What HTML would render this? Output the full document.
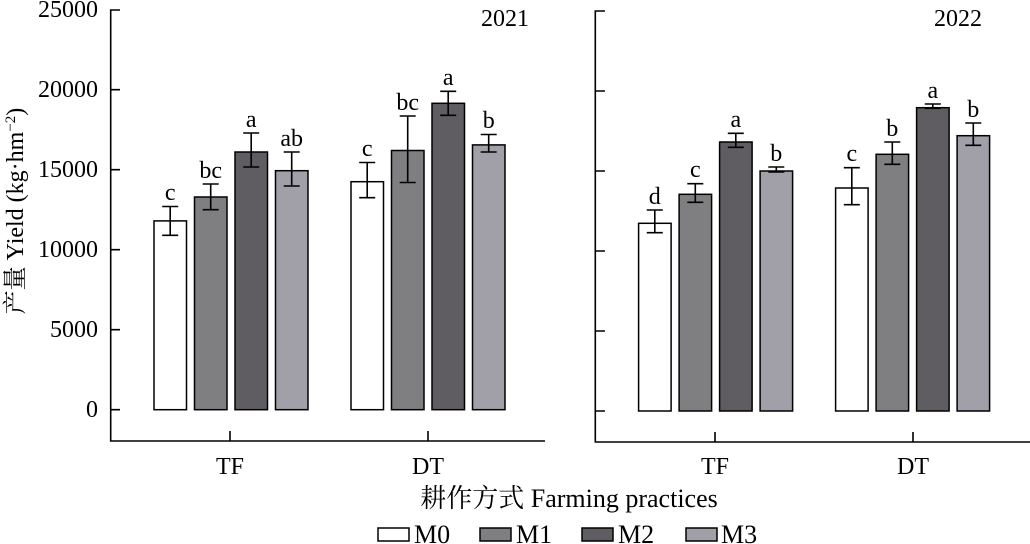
<!DOCTYPE html>
<html><head><meta charset="utf-8"><style>
html,body{margin:0;padding:0;background:#fff;}
svg{display:block;font-family:"Liberation Serif","Noto Serif CJK SC",serif;}
</style></head><body>
<svg width="1030" height="544" viewBox="0 0 1030 544" xmlns="http://www.w3.org/2000/svg">
<g stroke="#000" stroke-width="1.6" fill="none">
<path d="M120,10 H110.7 V441 H545"/>
<path d="M110.7,89.7 H120 M110.7,169.7 H120 M110.7,249.7 H120 M110.7,329.7 H120 M110.7,409.7 H120"/>
<path d="M230,441 V431 M428,441 V431"/>
<path d="M605,11 H595.3 V442 H1030"/>
<path d="M595.3,91 H605 M595.3,171 H605 M595.3,251 H605 M595.3,331 H605 M595.3,411 H605"/>
<path d="M715,442 V432 M913,442 V432"/>
</g>
<g font-size="24" text-anchor="end" fill="#000">
<text x="98" y="17">25000</text>
<text x="98" y="97">20000</text>
<text x="98" y="177">15000</text>
<text x="98" y="257">10000</text>
<text x="98" y="337">5000</text>
<text x="98" y="417">0</text>
</g>
<g font-size="24" fill="#000" text-anchor="middle">
<text x="505" y="26">2021</text>
<text x="958" y="26">2022</text>
<text x="230" y="474">TF</text>
<text x="428" y="474">DT</text>
<text x="715" y="474">TF</text>
<text x="913" y="474">DT</text>
<text x="569" y="507" font-size="26">耕作方式 Farming practices</text>
<text transform="translate(23,211) rotate(-90)">产量 Yield (kg·hm<tspan dy="-8" font-size="15">−2</tspan><tspan dy="8">)</tspan></text>
</g>
<g stroke="#000" stroke-width="1.5">
<rect x="154" y="220.9" width="32.5" height="188.8" fill="#fff"/>
<rect x="194.5" y="197" width="32.5" height="212.7" fill="#7f7e80"/>
<rect x="235" y="152" width="32.5" height="257.7" fill="#5f5d61"/>
<rect x="275.5" y="170.7" width="32.5" height="239" fill="#a19fa7"/>
<rect x="351" y="181.7" width="32.5" height="228" fill="#fff"/>
<rect x="391.5" y="150.5" width="32.5" height="259.2" fill="#7f7e80"/>
<rect x="432" y="103.3" width="32.5" height="306.4" fill="#5f5d61"/>
<rect x="472.5" y="144.9" width="32.5" height="264.8" fill="#a19fa7"/>
<rect x="638.6" y="223.3" width="32.5" height="187.7" fill="#fff"/>
<rect x="679.1" y="194.3" width="32.5" height="216.7" fill="#7f7e80"/>
<rect x="719.6" y="142" width="32.5" height="269" fill="#5f5d61"/>
<rect x="760.1" y="171" width="32.5" height="240" fill="#a19fa7"/>
<rect x="835.6" y="188" width="32.5" height="223" fill="#fff"/>
<rect x="876.1" y="154.3" width="32.5" height="256.7" fill="#7f7e80"/>
<rect x="916.6" y="107.7" width="32.5" height="303.3" fill="#5f5d61"/>
<rect x="957.1" y="135.7" width="32.5" height="275.3" fill="#a19fa7"/>
</g>
<g stroke="#000" stroke-width="1.6" fill="none">
<path d="M170.2,206.5V235.3M162.2,206.5H178.2M162.2,235.3H178.2"/>
<path d="M210.7,184V209.7M202.7,184H218.7M202.7,209.7H218.7"/>
<path d="M251.2,133V167M243.2,133H259.2M243.2,167H259.2"/>
<path d="M291.7,152V186M283.7,152H299.7M283.7,186H299.7"/>
<path d="M367.2,162.5V197.7M359.2,162.5H375.2M359.2,197.7H375.2"/>
<path d="M407.7,116V182.5M399.7,116H415.7M399.7,182.5H415.7"/>
<path d="M448.2,91.3V115.3M440.2,91.3H456.2M440.2,115.3H456.2"/>
<path d="M488.7,134.5V152M480.7,134.5H496.7M480.7,152H496.7"/>
<path d="M654.8,210V232.7M646.8,210H662.8M646.8,232.7H662.8"/>
<path d="M695.3,183.7V202.3M687.3,183.7H703.3M687.3,202.3H703.3"/>
<path d="M735.8,133.3V147.3M727.8,133.3H743.8M727.8,147.3H743.8"/>
<path d="M776.3,167V172M768.3,167H784.3M768.3,172H784.3"/>
<path d="M851.8,167.7V204.7M843.8,167.7H859.8M843.8,204.7H859.8"/>
<path d="M892.3,142V164.3M884.3,142H900.3M884.3,164.3H900.3"/>
<path d="M932.8,104V108.3M924.8,104H940.8M924.8,108.3H940.8"/>
<path d="M973.3,123V145.3M965.3,123H981.3M965.3,145.3H981.3"/>
</g>
<g font-size="24" fill="#000" text-anchor="middle">
<text x="170.2" y="200">c</text>
<text x="210.7" y="178">bc</text>
<text x="251.2" y="127">a</text>
<text x="291.7" y="146">ab</text>
<text x="367.2" y="156">c</text>
<text x="407.7" y="110">bc</text>
<text x="448.2" y="85">a</text>
<text x="488.7" y="128">b</text>
<text x="654.8" y="204">d</text>
<text x="695.3" y="177">c</text>
<text x="735.8" y="127">a</text>
<text x="776.3" y="161">b</text>
<text x="851.8" y="161">c</text>
<text x="892.3" y="136">b</text>
<text x="932.8" y="98">a</text>
<text x="973.3" y="117">b</text>
</g>
<g stroke="#000" stroke-width="1.5">
<rect x="378" y="528" width="31" height="13" fill="#fff"/>
<rect x="480" y="528" width="31" height="13" fill="#7f7e80"/>
<rect x="582" y="528" width="31" height="13" fill="#5f5d61"/>
<rect x="686" y="528" width="31" height="13" fill="#a19fa7"/>
</g>
<g font-size="26" fill="#000">
<text x="414" y="543">M0</text>
<text x="516" y="543">M1</text>
<text x="618" y="543">M2</text>
<text x="721" y="543">M3</text>
</g>
</svg>
</body></html>
